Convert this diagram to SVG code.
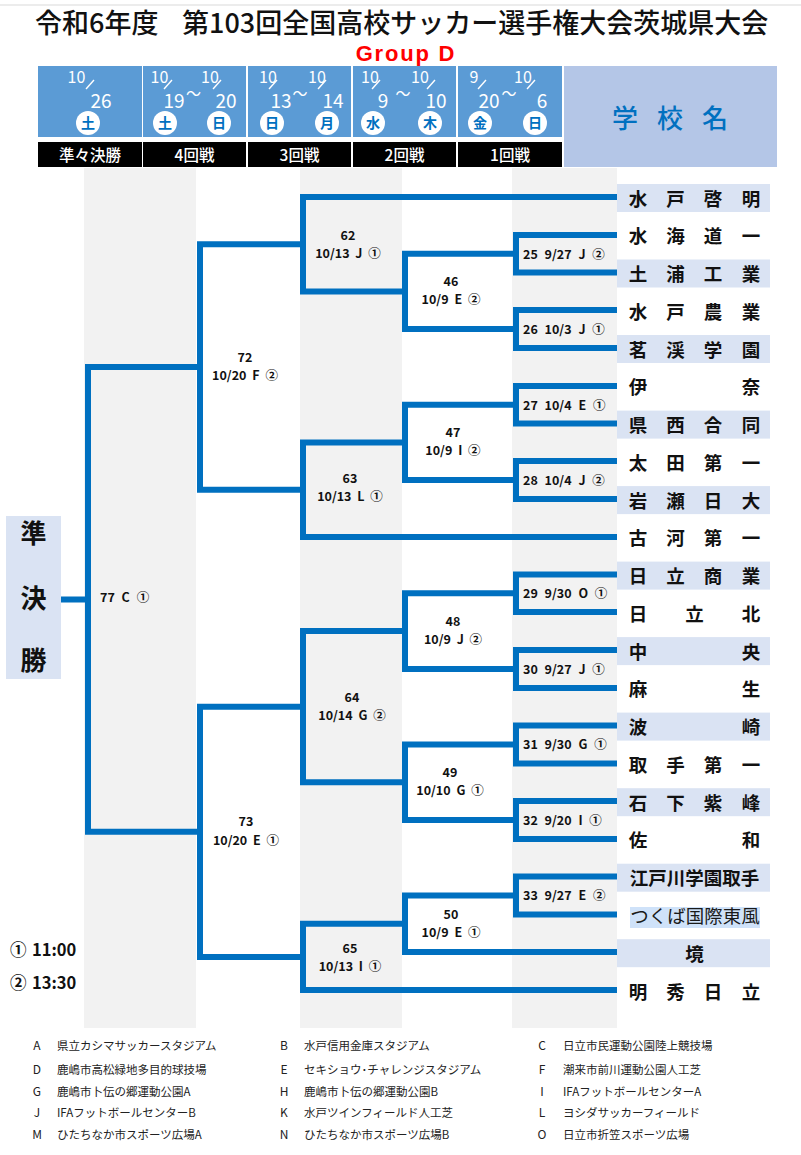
<svg xmlns="http://www.w3.org/2000/svg" width="801" height="1155" viewBox="0 0 801 1155">
<style>
text{font-family:"Noto Sans CJK JP","Noto Sans",sans-serif}
.title{font-size:27px;fill:#111;font-weight:500}
.grp{font-family:"Liberation Sans",Arial,sans-serif;font-weight:bold;font-size:22px;letter-spacing:1.8px;fill:#ff0000}
.hs{fill:#fff;font-size:16px;text-anchor:middle}
.hb{fill:#fff;font-size:19px;text-anchor:middle}
.tl{fill:#fff;font-size:15px;text-anchor:middle}
.day{fill:#0070c0;font-size:14px;font-weight:bold;text-anchor:middle}
.bar{fill:#fff;font-size:15.5px;text-anchor:middle;font-weight:500}
.sch{font-size:18.5px;font-weight:bold;fill:#111;text-anchor:middle}
.m{font-size:12.5px;font-weight:bold;fill:#111;word-spacing:4px}
.mc{font-size:12.5px;font-weight:bold;fill:#111;word-spacing:3px;text-anchor:middle}
.lg{font-size:11.5px;fill:#222}
.lgl{font-size:12px;fill:#222;text-anchor:middle}
.br{fill:none;stroke:#0070c0;stroke-width:6;stroke-linejoin:miter}
.hbox{fill:#5b9bd5}
.band{fill:#dae3f3}
.col{fill:#f2f2f2}
.sl{stroke:#fff;stroke-width:1.4}
</style>
<rect width="801" height="1155" fill="#fff"/>
<line x1="0" y1="5" x2="801" y2="5" stroke="#e6e6e6" stroke-width="1.5"/>

<!-- background columns -->
<g id="columns">
<rect class="col" x="84" y="168" width="112" height="860"/>
<rect class="col" x="300" y="168" width="102" height="860"/>
<rect class="col" x="512" y="168" width="105" height="860"/>
</g>

<g id="title">
<text class="title" y="32.5"><tspan x="35">令和6年度</tspan><tspan x="182">第103回全国高校サッカー選手権大会茨城県大会</tspan></text>
<text class="grp" x="406" y="60.5" text-anchor="middle">Group D</text>
</g>

<g id="header">
<rect class="hbox" x="38" y="66" width="104" height="71"/>
<rect class="hbox" x="143" y="66" width="103" height="71"/>
<rect class="hbox" x="248" y="66" width="103" height="71"/>
<rect class="hbox" x="353" y="66" width="103" height="71"/>
<rect class="hbox" x="458" y="66" width="104" height="71"/>
<rect x="38" y="142" width="104" height="25" fill="#000"/>
<rect x="143" y="142" width="103" height="25" fill="#000"/>
<rect x="248" y="142" width="103" height="25" fill="#000"/>
<rect x="353" y="142" width="103" height="25" fill="#000"/>
<rect x="458" y="142" width="104" height="25" fill="#000"/>
<rect x="564" y="66" width="213" height="101" fill="#b4c6e7"/>
<text x="625 670 715" y="128" font-size="26" font-weight="500" fill="#0070c0" text-anchor="middle">学校名</text>
<!-- box1 -->
<text class="hs" x="76.5" y="83">10</text><line class="sl" x1="86" y1="89" x2="94" y2="80"/><text class="hb" x="101" y="108">26</text>
<!-- box2 -->
<text class="hs" x="159.5" y="83">10</text><line class="sl" x1="164" y1="89" x2="172" y2="80"/><text class="hb" x="174" y="108">19</text>
<text class="tl" x="193.5" y="99">〜</text>
<text class="hs" x="210" y="83">10</text><line class="sl" x1="213" y1="89" x2="221" y2="80"/><text class="hb" x="226" y="108">20</text>
<!-- box3 -->
<text class="hs" x="268" y="83">10</text><line class="sl" x1="269" y1="89" x2="277" y2="80"/><text class="hb" x="281" y="108">13</text>
<text class="tl" x="300" y="99">〜</text>
<text class="hs" x="317" y="83">10</text><line class="sl" x1="318" y1="89" x2="326" y2="80"/><text class="hb" x="333" y="108">14</text>
<!-- box4 -->
<text class="hs" x="370" y="83">10</text><line class="sl" x1="372" y1="89" x2="380" y2="80"/><text class="hb" x="383" y="108">9</text>
<text class="tl" x="403" y="99">〜</text>
<text class="hs" x="420" y="83">10</text><line class="sl" x1="427" y1="89" x2="435" y2="80"/><text class="hb" x="436" y="108">10</text>
<!-- box5 -->
<text class="hs" x="474" y="83">9</text><line class="sl" x1="478" y1="89" x2="486" y2="80"/><text class="hb" x="489" y="108">20</text>
<text class="tl" x="509" y="99">〜</text>
<text class="hs" x="523" y="83">10</text><line class="sl" x1="527" y1="89" x2="535" y2="80"/><text class="hb" x="542" y="108">6</text>
<!-- day circles -->
<g fill="#fff">
<circle cx="88" cy="123" r="12"/>
<circle cx="165" cy="123" r="12"/><circle cx="219" cy="123" r="12"/>
<circle cx="272" cy="123" r="12"/><circle cx="327" cy="123" r="12"/>
<circle cx="373" cy="123" r="12"/><circle cx="430" cy="123" r="12"/>
<circle cx="480" cy="123" r="12"/><circle cx="535" cy="123" r="12"/>
</g>
<text class="day" x="88" y="128">土</text>
<text class="day" x="165" y="128">土</text><text class="day" x="219" y="128">日</text>
<text class="day" x="272" y="128">日</text><text class="day" x="327" y="128">月</text>
<text class="day" x="373" y="128">水</text><text class="day" x="430" y="128">木</text>
<text class="day" x="480" y="128">金</text><text class="day" x="535" y="128">日</text>
<text class="bar" x="90" y="160.5">準々決勝</text>
<text class="bar" x="194.5" y="160.5">4回戦</text>
<text class="bar" x="299.5" y="160.5">3回戦</text>
<text class="bar" x="404.5" y="160.5">2回戦</text>
<text class="bar" x="510" y="160.5">1回戦</text>
</g>

<g id="semifinal">
<rect x="6" y="516" width="55" height="163" fill="#dae3f3"/>
<text x="33.5" y="543" font-size="26" font-weight="bold" fill="#111" text-anchor="middle">準</text>
<text x="33.5" y="608" font-size="26" font-weight="bold" fill="#111" text-anchor="middle">決</text>
<text x="33.5" y="670" font-size="26" font-weight="bold" fill="#111" text-anchor="middle">勝</text>
</g>

<g id="connectors">
<path class="br" d="M617 235H516V272.5H617M617 310H516V348H617M617 386H516V423.5H617M617 461H516V499H617M617 574.5H516V612H617M617 650H516V688H617M617 725.5H516V763.5H617M617 801H516V839H617M617 876.5H516V914.5H617"/>
<path class="br" d="M516 253.75H405V329H516M516 404.75H405V480H516M516 593.25H405V669H516M516 744.5H405V820H516M516 895.5H405V952H617"/>
<path class="br" d="M617 197H303V291.4H405M405 442.4H303V537H617M405 631.1H303V782.25H405M405 923.75H303V990H617"/>
<path class="br" d="M303 244.2H200V489.7H303M303 706.7H200V956.9H303"/>
<path class="br" d="M200 367H88V831.8H200M61 599.4H88"/>
</g>

<g id="schools">
<rect class="band" x="617" y="184" width="153" height="28"/>
<rect class="band" x="617" y="259.5" width="153" height="28"/>
<rect class="band" x="617" y="335" width="153" height="28"/>
<rect class="band" x="617" y="410.6" width="153" height="28"/>
<rect class="band" x="617" y="486.1" width="153" height="28"/>
<rect class="band" x="617" y="561.6" width="153" height="28"/>
<rect class="band" x="617" y="637.1" width="153" height="28"/>
<rect class="band" x="617" y="712.6" width="153" height="28"/>
<rect class="band" x="617" y="788.2" width="153" height="28"/>
<rect class="band" x="617" y="863.7" width="153" height="28"/>
<rect class="band" x="617" y="939.2" width="153" height="28"/>
<rect x="630" y="907" width="130" height="21" fill="#cfe2f9"/>
<g id="s0"><text class="sch" x="638 675.5 713 751" y="205.5">水戸啓明</text></g>
<g id="s1"><text class="sch" x="638 675.5 713 751" y="243.3">水海道一</text></g>
<g id="s2"><text class="sch" x="638 675.5 713 751" y="281">土浦工業</text></g>
<g id="s3"><text class="sch" x="638 675.5 713 751" y="318.8">水戸農業</text></g>
<g id="s4"><text class="sch" x="638 675.5 713 751" y="356.5">茗渓学園</text></g>
<g id="s5"><text class="sch" x="638 751" y="394.3">伊奈</text></g>
<g id="s6"><text class="sch" x="638 675.5 713 751" y="432.1">県西合同</text></g>
<g id="s7"><text class="sch" x="638 675.5 713 751" y="469.8">太田第一</text></g>
<g id="s8"><text class="sch" x="638 675.5 713 751" y="507.6">岩瀬日大</text></g>
<g id="s9"><text class="sch" x="638 675.5 713 751" y="545.3">古河第一</text></g>
<g id="s10"><text class="sch" x="638 675.5 713 751" y="583.1">日立商業</text></g>
<g id="s11"><text class="sch" x="638 694.5 751" y="620.9">日立北</text></g>
<g id="s12"><text class="sch" x="638 751" y="658.6">中央</text></g>
<g id="s13"><text class="sch" x="638 751" y="696.4">麻生</text></g>
<g id="s14"><text class="sch" x="638 751" y="734.1">波崎</text></g>
<g id="s15"><text class="sch" x="638 675.5 713 751" y="771.9">取手第一</text></g>
<g id="s16"><text class="sch" x="638 675.5 713 751" y="809.7">石下紫峰</text></g>
<g id="s17"><text class="sch" x="638 751" y="847.4">佐和</text></g>
<g id="s18"><text class="sch" x="694.5" y="885.2">江戸川学園取手</text></g>
<g id="s19"><text x="695" y="922.9" font-size="18.5" fill="#1a1a1a" text-anchor="middle">つくば国際東風</text></g>
<g id="s20"><text class="sch" x="694.5" y="960.7">境</text></g>
<g id="s21"><text class="sch" x="638 675.5 713 751" y="998.5">明秀日立</text></g>
</g>

<g id="matches">
<g id="m25"><text class="m" x="523" y="258.5">25 9/27 J ②</text></g>
<g id="m26"><text class="m" x="523" y="333.5">26 10/3 J ①</text></g>
<g id="m27"><text class="m" x="523" y="409.5">27 10/4 E ①</text></g>
<g id="m28"><text class="m" x="523" y="484.5">28 10/4 J ②</text></g>
<g id="m29"><text class="m" x="523" y="598">29 9/30 O ①</text></g>
<g id="m30"><text class="m" x="523" y="673.5">30 9/27 J ①</text></g>
<g id="m31"><text class="m" x="523" y="749">31 9/30 G ①</text></g>
<g id="m32"><text class="m" x="523" y="824.5">32 9/20 I ①</text></g>
<g id="m33"><text class="m" x="523" y="900">33 9/27 E ②</text></g>
<g id="m46"><text class="mc" x="451" y="286.4">46</text><text class="mc" x="451" y="304.4">10/9 E ②</text></g>
<g id="m47"><text class="mc" x="453" y="437.4">47</text><text class="mc" x="453" y="455.4">10/9 I ②</text></g>
<g id="m48"><text class="mc" x="453" y="626">48</text><text class="mc" x="453" y="644">10/9 J ②</text></g>
<g id="m49"><text class="mc" x="450" y="777">49</text><text class="mc" x="450" y="795">10/10 G ①</text></g>
<g id="m50"><text class="mc" x="451" y="919">50</text><text class="mc" x="451" y="937">10/9 E ①</text></g>
<g id="m62"><text class="mc" x="348" y="239.5">62</text><text class="mc" x="348" y="257.5">10/13 J ①</text></g>
<g id="m63"><text class="mc" x="350" y="482.5">63</text><text class="mc" x="350" y="500.5">10/13 L ①</text></g>
<g id="m64"><text class="mc" x="352" y="701.5">64</text><text class="mc" x="352" y="719.5">10/14 G ②</text></g>
<g id="m65"><text class="mc" x="350" y="952.5">65</text><text class="mc" x="350" y="970.5">10/13 I ①</text></g>
<g id="m72"><text class="mc" x="245" y="361.5">72</text><text class="mc" x="245" y="379.5">10/20 F ②</text></g>
<g id="m73"><text class="mc" x="246" y="825.5">73</text><text class="mc" x="246" y="844.5">10/20 E ①</text></g>
<g id="m77"><text class="m" x="100" y="602">77 C ①</text></g>
</g>

<g id="times">
<text x="10" y="956" font-size="16.5" font-weight="bold" fill="#111">①<tspan x="32">11:00</tspan></text>
<text x="10" y="989" font-size="16.5" font-weight="bold" fill="#111">②<tspan x="32">13:30</tspan></text>
</g>

<g id="legend">
<text class="lgl" x="37" y="1050">A</text><text class="lg" x="57" y="1050">県立カシマサッカースタジアム</text>
<text class="lgl" x="284" y="1050">B</text><text class="lg" x="304" y="1050">水戸信用金庫スタジアム</text>
<text class="lgl" x="542" y="1050">C</text><text class="lg" x="563" y="1050">日立市民運動公園陸上競技場</text>
<text class="lgl" x="37" y="1074">D</text><text class="lg" x="57" y="1074">鹿嶋市高松緑地多目的球技場</text>
<text class="lgl" x="284" y="1074">E</text><text class="lg" x="304" y="1074">セキショウ･チャレンジスタジアム</text>
<text class="lgl" x="542" y="1074">F</text><text class="lg" x="563" y="1074">潮来市前川運動公園人工芝</text>
<text class="lgl" x="37" y="1096">G</text><text class="lg" x="57" y="1096">鹿嶋市卜伝の郷運動公園A</text>
<text class="lgl" x="284" y="1096">H</text><text class="lg" x="304" y="1096">鹿嶋市卜伝の郷運動公園B</text>
<text class="lgl" x="542" y="1096">I</text><text class="lg" x="563" y="1096">IFAフットボールセンターA</text>
<text class="lgl" x="37" y="1117">J</text><text class="lg" x="57" y="1117">IFAフットボールセンターB</text>
<text class="lgl" x="284" y="1117">K</text><text class="lg" x="304" y="1117">水戸ツインフィールド人工芝</text>
<text class="lgl" x="542" y="1117">L</text><text class="lg" x="563" y="1117">ヨシダサッカーフィールド</text>
<text class="lgl" x="37" y="1139">M</text><text class="lg" x="57" y="1139">ひたちなか市スポーツ広場A</text>
<text class="lgl" x="284" y="1139">N</text><text class="lg" x="304" y="1139">ひたちなか市スポーツ広場B</text>
<text class="lgl" x="542" y="1139">O</text><text class="lg" x="563" y="1139">日立市折笠スポーツ広場</text>
</g>
</svg>
